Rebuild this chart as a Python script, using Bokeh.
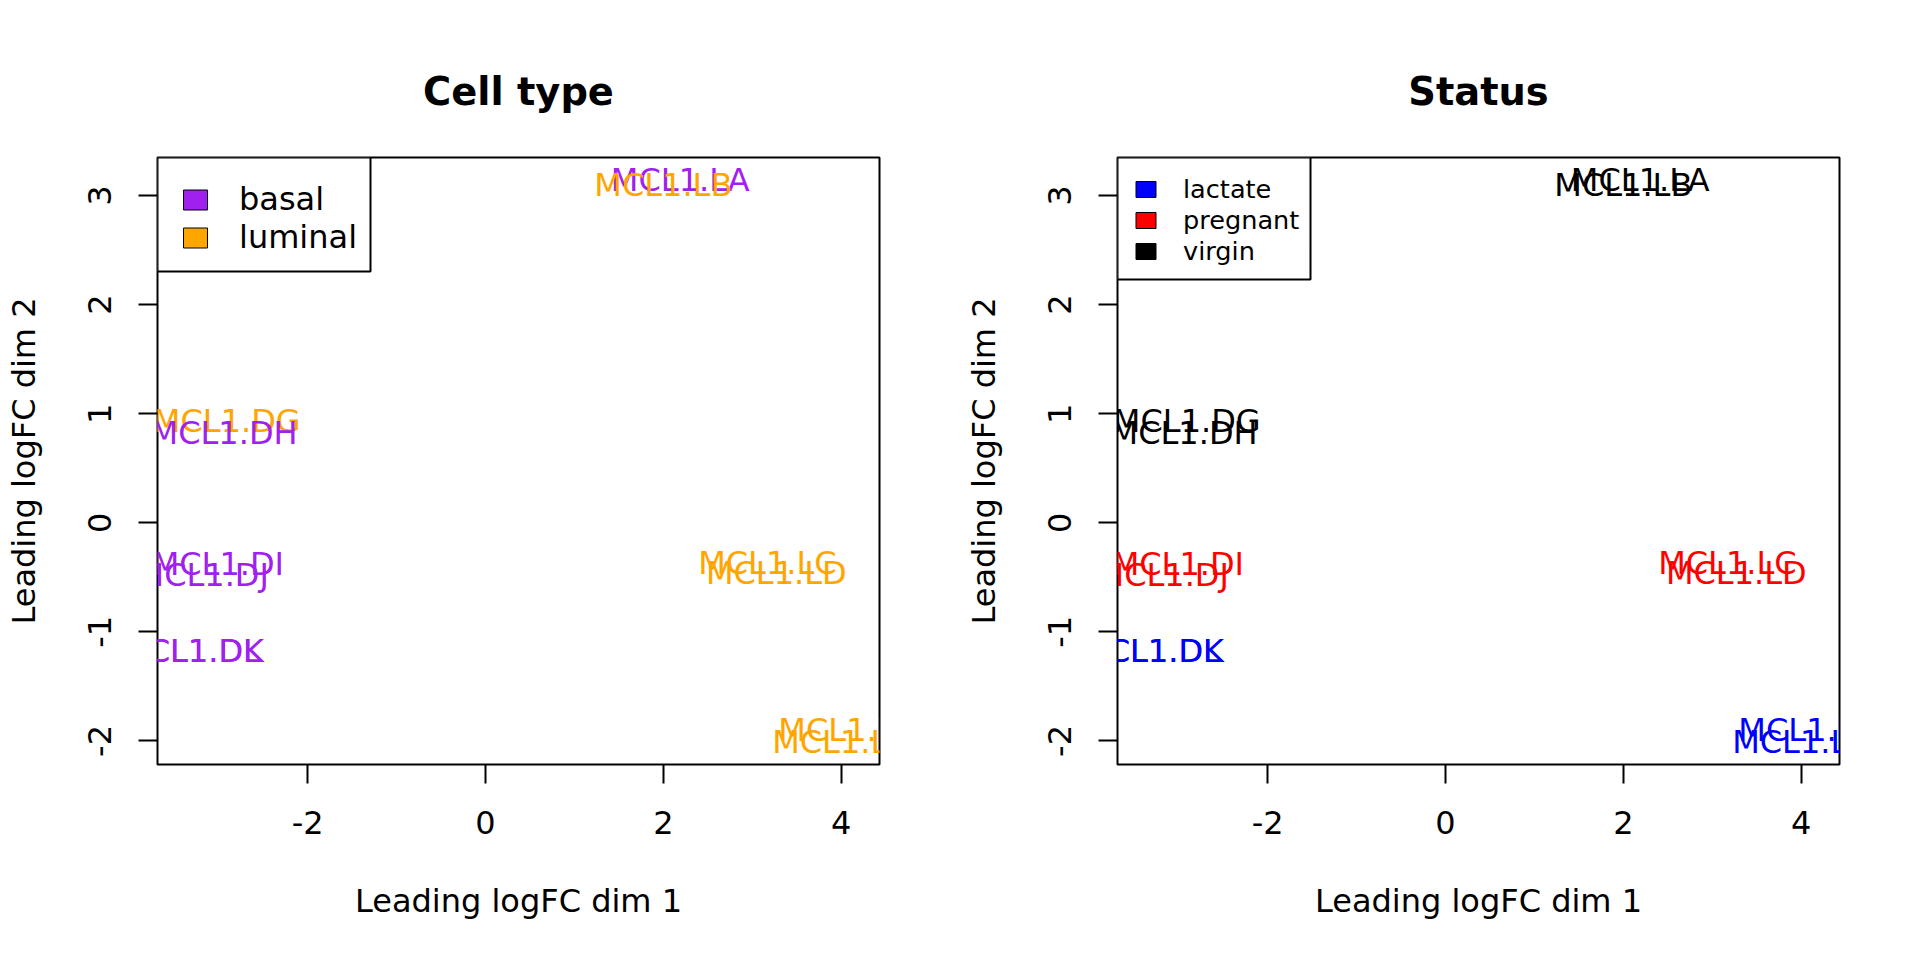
import numpy as np
from bokeh.plotting import figure
from bokeh.models import Range1d, FixedTicker, Legend, LegendItem, ColumnDataSource, BoxAnnotation
from bokeh.layouts import row
from bokeh.embed import file_html
from bokeh.resources import INLINE
from bokeh.core.properties import value

# ---- data ----
samples = ["MCL1.DG", "MCL1.DH", "MCL1.DI", "MCL1.DJ", "MCL1.DK", "MCL1.DL",
           "MCL1.LA", "MCL1.LB", "MCL1.LC", "MCL1.LD", "MCL1.LE", "MCL1.LF"]
dim1 = [-2.91, -2.94, -3.01, -3.18, -3.300, -3.318,
        2.19, 2.00, 3.17, 3.27, 4.06, 3.98]
dim2 = [0.93, 0.82, -0.38, -0.48, -1.18, -1.18,
        3.143, 3.10, -0.37, -0.46, -1.90, -2.01]
cell_type = ["luminal", "basal", "basal", "basal", "basal", "basal",
             "basal", "luminal", "luminal", "luminal", "luminal", "luminal"]
status = ["virgin", "virgin", "pregnant", "pregnant", "lactate", "lactate",
          "virgin", "virgin", "pregnant", "pregnant", "lactate", "lactate"]

celltype_levels = ["basal", "luminal"]
celltype_colors = ["#A020F0", "#FFA500"]
status_levels = ["lactate", "pregnant", "virgin"]
status_colors = ["#0000FF", "#FF0000", "#000000"]

x_ticks = [-2, 0, 2, 4]
y_ticks = [-2, -1, 0, 1, 2, 3]
x_label = "Leading logFC dim 1"
y_label = "Leading logFC dim 2"

FONT = "DejaVu Sans"
W, H = 952, 944
TOP, FRAME_W, FRAME_H = 157, 722, 607


def ranges():
    n = [len(s) for s in samples]
    lo = min(x - 0.01 * k for x, k in zip(dim1, n))
    hi = max(x + 0.01 * k for x, k in zip(dim1, n))
    px = 0.04 * (hi - lo)
    ylo, yhi = min(dim2), max(dim2)
    py = 0.04 * (yhi - ylo)
    return (lo - px, hi + px), (ylo - py, yhi + py)


def panel(title, groups, levels, colors, bl, leg_fs, leg_margin, gw, gh, lh, lstand, box_w, box_h):
    (x0, x1), (y0, y1) = ranges()
    p = figure(width=W, height=H, output_backend="svg", toolbar_location=None,
               x_range=Range1d(x0, x1), y_range=Range1d(y0, y1),
               min_border_left=bl, min_border_right=W - bl - FRAME_W,
               min_border_top=TOP, min_border_bottom=H - TOP - FRAME_H)
    p.grid.visible = False
    p.background_fill_color = "white"
    p.border_fill_color = "white"
    p.outline_line_color = "black"
    p.outline_line_width = 2

    p.title.text = title
    p.title.align = "center"
    p.title.text_font = FONT
    p.title.text_font_size = "38.4px"
    p.title.text_font_style = "bold"
    p.title.text_color = "black"
    p.title.standoff = 88

    for ax, ticks in ((p.xaxis[0], x_ticks), (p.yaxis[0], y_ticks)):
        ax.ticker = FixedTicker(ticks=ticks, minor_ticks=[])
        ax.major_label_overrides = {t: str(t) for t in ticks}
        ax.major_tick_out = 19
        ax.major_tick_in = 0
        ax.major_tick_line_width = 2
        ax.major_tick_line_color = "black"
        ax.minor_tick_line_color = None
        ax.axis_line_color = None
        ax.major_label_text_font = FONT
        ax.major_label_text_font_size = "32px"
        ax.major_label_text_color = "black"
        ax.axis_label_text_font = FONT
        ax.axis_label_text_font_size = "32px"
        ax.axis_label_text_font_style = "normal"
        ax.axis_label_text_color = "black"
    p.xaxis[0].major_label_standoff = 27
    p.xaxis[0].axis_label_standoff = 45
    p.yaxis[0].major_label_standoff = 27
    p.yaxis[0].axis_label_standoff = 43
    p.xaxis[0].axis_label = x_label
    p.yaxis[0].axis_label = y_label
    p.yaxis[0].major_label_orientation = "vertical"

    cmap = dict(zip(levels, colors))
    src = ColumnDataSource(dict(x=dim1, y=dim2, label=samples,
                                color=[cmap[g] for g in groups]))
    p.text(x="x", y="y", text="label", text_color="color", source=src,
           text_font=value(FONT), text_font_size=value("32px"),
           text_align="center", text_baseline="alphabetic", y_offset=0)

    # legend frame (R draws it from the plot corner)
    box = BoxAnnotation(left=x0, top=y1,
                        right=x0 + box_w * (x1 - x0) / FRAME_W,
                        bottom=y1 - box_h * (y1 - y0) / FRAME_H,
                        fill_color="white", fill_alpha=1.0,
                        line_color="black", line_width=2, line_alpha=1.0)
    p.add_layout(box)

    items = []
    for lev, col in zip(levels, colors):
        r = p.quad(left=np.array([np.nan]), right=np.array([np.nan]),
                   top=np.array([np.nan]), bottom=np.array([np.nan]),
                   fill_color=col, line_color="black", line_width=1)
        items.append(LegendItem(label=lev, renderers=[r]))
    leg = Legend(items=items, location="top_left", margin=leg_margin, padding=0, spacing=0,
                 glyph_width=gw, glyph_height=gh, label_height=lh, label_standoff=lstand,
                 label_text_font=FONT, label_text_font_size=leg_fs,
                 label_text_color="black",
                 border_line_color=None, background_fill_alpha=0.0)
    p.add_layout(leg)
    return p


p1 = panel("Cell type", cell_type, celltype_levels, celltype_colors, 157,
           "32px", 23, 30, 25, 38, 29, 213, 114)
p2 = panel("Status", status, status_levels, status_colors, 165,
           "25.6px", 16, 25, 20, 31, 25, 193, 122)

layout = row(p1, p2)
open("out.html", "w").write(file_html(layout, INLINE))
